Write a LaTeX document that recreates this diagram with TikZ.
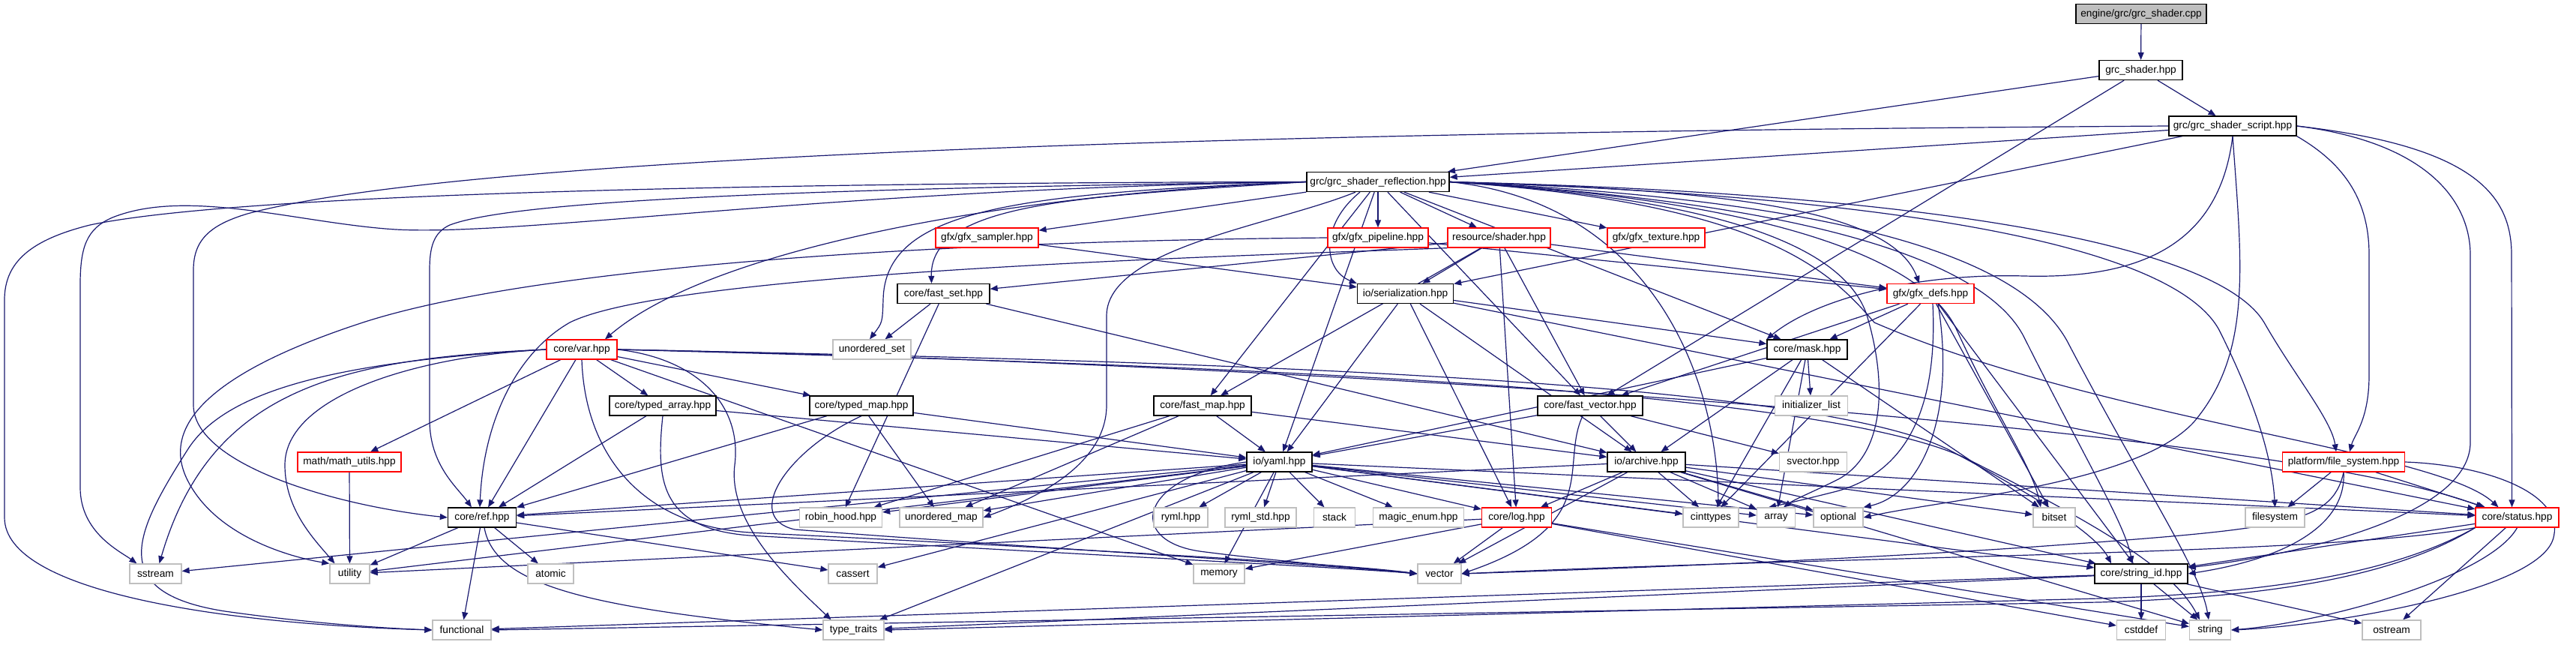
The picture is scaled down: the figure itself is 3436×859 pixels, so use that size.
\documentclass[tikz,border=0pt]{standalone}
\usepackage{fontspec}
\newfontfamily\doxfont{Liberation Sans}
\usetikzlibrary{arrows.meta}
\definecolor{edgec}{HTML}{191970}
\definecolor{grayb}{HTML}{BFBFBF}
\definecolor{rootf}{HTML}{BFBFBF}
\definecolor{redb}{HTML}{FF0000}
\pgfdeclarelayer{bg}
\pgfdeclarelayer{edges}
\pgfsetlayers{bg,edges,main}
\tikzset{
 nbox/.style={draw=black, fill=white, line width=1.3pt, minimum height=26pt, inner xsep=2pt, inner ysep=0pt, font=\doxfont\fontsize{13.7}{16}\selectfont},
 rbox/.style={nbox, draw=redb},
 gbox/.style={nbox, draw=grayb},
 rootbox/.style={nbox, fill=rootf},
 e/.style={draw=edgec, line width=1.2pt, -{Triangle[length=10pt,width=8pt]}},
}
\begin{document}
\begin{tikzpicture}[x=1pt,y=-1pt]
\useasboundingbox (0,0) rectangle (3436,859);
\begin{pgfonlayer}{bg}
\fill[white] (0,0) rectangle (3436,859);
\end{pgfonlayer}
% nodes
\node[rootbox, minimum width=174pt] (root) at (2856,18.5) {engine/grc/grc\_shader.cpp};
\node[nbox, minimum width=111pt] (shader) at (2855.5,93.5) {grc\_shader.hpp};
\node[nbox, minimum width=170pt] (script) at (2978,168) {grc/grc\_shader\_script.hpp};
\node[nbox, minimum width=190pt] (refl) at (1838,242.5) {grc/grc\_shader\_reflection.hpp};
\node[rbox, minimum width=137pt] (sampler) at (1316.5,317) {gfx/gfx\_sampler.hpp};
\node[rbox, minimum width=134pt] (pipeline) at (1838,317) {gfx/gfx\_pipeline.hpp};
\node[rbox, minimum width=137pt] (rshader) at (1999.5,317) {resource/shader.hpp};
\node[rbox, minimum width=130pt] (texture) at (2209,317) {gfx/gfx\_texture.hpp};
\node[nbox, minimum width=123pt] (fastset) at (1258.5,391.5) {core/fast\_set.hpp};
\node[nbox, minimum width=128pt] (serial) at (1874.5,391.5) {io/serialization.hpp};
\node[rbox, minimum width=116pt] (defs) at (2575,391.5) {gfx/gfx\_defs.hpp};
\node[rbox, minimum width=94pt] (var) at (776,466) {core/var.hpp};
\node[gbox, minimum width=104pt] (uset) at (1163,466) {unordered\_set};
\node[nbox, minimum width=107pt] (mask) at (2410.5,466) {core/mask.hpp};
\node[nbox, minimum width=142pt] (tarray) at (884,541) {core/typed\_array.hpp};
\node[nbox, minimum width=138pt] (tmap) at (1149,541) {core/typed\_map.hpp};
\node[nbox, minimum width=130pt] (fmap) at (1604,541) {core/fast\_map.hpp};
\node[nbox, minimum width=140pt] (fvec) at (2121,541) {core/fast\_vector.hpp};
\node[gbox, minimum width=97pt] (initl) at (2416,541) {initializer\_list};
\node[rbox, minimum width=138pt] (mutils) at (466,616) {math/math\_utils.hpp};
\node[nbox, minimum width=87pt] (yaml) at (1706.5,616) {io/yaml.hpp};
\node[nbox, minimum width=104pt] (archive) at (2196,616) {io/archive.hpp};
\node[gbox, minimum width=90pt] (svector) at (2418.5,616) {svector.hpp};
\node[rbox, minimum width=163pt] (fsys) at (3126,616) {platform/file\_system.hpp};
\node[nbox, minimum width=91pt] (ref) at (643,690) {core/ref.hpp};
\node[gbox, minimum width=110pt] (robin) at (1121.5,690) {robin\_hood.hpp};
\node[gbox, minimum width=111pt] (umap) at (1255.5,690) {unordered\_map};
\node[gbox, minimum width=72pt] (ryml) at (1575,690) {ryml.hpp};
\node[gbox, minimum width=95pt] (rymlstd) at (1681.5,690) {ryml\_std.hpp};
\node[gbox, minimum width=55pt] (stack) at (1780,690) {stack};
\node[gbox, minimum width=121pt] (magic) at (1892,690) {magic\_enum.hpp};
\node[rbox, minimum width=93pt] (log) at (2023,690) {core/log.hpp};
\node[gbox, minimum width=74pt] (cint) at (2282,690) {cinttypes};
\node[gbox, minimum width=51pt] (array) at (2369,690) {array};
\node[gbox, minimum width=66pt] (optional) at (2452,690) {optional};
\node[gbox, minimum width=56pt] (bitset) at (2740,690) {bitset};
\node[gbox, minimum width=79pt] (filesystem) at (3034.5,690) {filesystem};
\node[rbox, minimum width=111pt] (status) at (3357.5,690) {core/status.hpp};
\node[gbox, minimum width=69pt] (sstream) at (207.5,765) {sstream};
\node[gbox, minimum width=53pt] (utility) at (466.5,765) {utility};
\node[gbox, minimum width=61pt] (atomic) at (734.5,765) {atomic};
\node[gbox, minimum width=65pt] (cassert) at (1137.5,765) {cassert};
\node[gbox, minimum width=68pt] (memory) at (1626,765) {memory};
\node[gbox, minimum width=58pt] (vector) at (1920,765) {vector};
\node[nbox, minimum width=124pt] (strid) at (2856,765) {core/string\_id.hpp};
\node[gbox, minimum width=78pt] (functional) at (616,840) {functional};
\node[gbox, minimum width=81pt] (ttraits) at (1138.5,840) {type\_traits};
\node[gbox, minimum width=65pt] (cstddef) at (2856,840) {cstddef};
\node[gbox, minimum width=55pt] (string) at (2948,840) {string};
\node[gbox, minimum width=78pt] (ostream) at (3190,840) {ostream};

\begin{pgfonlayer}{edges}
% straight edges
\foreach \a/\b in {root/shader, shader/script, shader/refl, shader/fvec,
 script/refl, script/serial,
 refl/sampler, refl/pipeline, refl/rshader, refl/texture, refl/fmap, refl/fvec, refl/mask, refl/yaml,
 sampler/serial, pipeline/defs,
 rshader/fastset, rshader/serial, rshader/fmap, rshader/fvec, rshader/defs, rshader/log,
 fastset/uset, fastset/robin, fastset/archive,
 serial/yaml, serial/archive, serial/log, serial/mask, serial/status,
 var/mutils, var/tarray, var/tmap, var/ref, var/memory,
 tarray/ref, tarray/yaml, tmap/ref, tmap/umap, tmap/yaml,
 fmap/yaml, fmap/umap, fmap/robin, fmap/archive,
 mutils/utility,
 yaml/ref, yaml/robin, yaml/umap, yaml/sstream, yaml/utility, yaml/ttraits, yaml/cassert, yaml/memory,
 yaml/ryml, yaml/rymlstd, yaml/stack, yaml/magic, yaml/log, yaml/cint, yaml/array, yaml/optional, yaml/status, yaml/strid,
 fvec/yaml, fvec/archive, fvec/svector,
 archive/ref, archive/log, archive/cint, archive/array, archive/optional, archive/bitset, archive/strid, archive/status, archive/string, archive/vector,
 mask/initl, mask/bitset, mask/archive, mask/yaml, mask/array, mask/cint,
 defs/mask, defs/fvec, defs/bitset, defs/strid, defs/cint,
 log/memory, log/vector, log/string, log/cstddef, log/utility,
 fsys/filesystem, fsys/status,
 status/strid, status/ostream,
 strid/cstddef, strid/string, strid/ostream, strid/functional, strid/ttraits,
 ref/utility, ref/atomic, ref/functional, ref/cassert}
 {\draw[e] (\a) -- (\b);}

% routed edges
\draw[e] (script.west) .. controls (2300,172) and (700,185) .. (330,285) .. controls (280,300) and (258,320) .. (258,360) -- (258,540) .. controls (258,620) and (450,675) .. (ref.west);
\draw[e] (script.south) .. controls (2960,330) and (2850,372) .. (2700,368) .. controls (2550,364) and (2420,400) .. (mask.north west);
\draw[e] (script.south) .. controls (2990,350) and (3005,470) .. (2926,563) .. controls (2850,645) and (2600,665) .. (optional.east);
\draw[e] (script.south east) .. controls (3130,220) and (3160,270) .. (3160,340) -- (3160,500) .. controls (3160,560) and (3140,580) .. ([xshift=8pt]fsys.north);
\draw[e] (script.east) .. controls (3240,190) and (3295,270) .. (3295,340) -- (3295,590) .. controls (3295,680) and (3100,735) .. ([yshift=8pt]strid.east);
\draw[e] (script.east) .. controls (3300,195) and (3350,260) .. (3350,340) -- ([xshift=-7pt]status.north);

\draw[e] (refl.west) .. controls (1200,250) and (700,262) .. (600,300) .. controls (578,310) and (573,330) .. (573,360) -- (573,560) .. controls (573,620) and (610,650) .. ([xshift=-14pt]ref.north);
\draw[e] (refl.west) .. controls (1100,252) and (700,315) .. (528,306) .. controls (400,298) and (250,250) .. (150,290) .. controls (115,305) and (107,330) .. (107,380) -- (107,650) .. controls (107,710) and (160,735) .. ([xshift=-25pt]sstream.north);
\draw[e] (refl.west) .. controls (900,244) and (300,262) .. (120,300) .. controls (40,320) and (6,350) .. (6,400) -- (6,690) .. controls (6,790) and (300,832) .. (functional.west);
\draw[e] (refl.west) .. controls (1450,262) and (1240,268) .. ([xshift=-16pt]fastset.north);
\draw[e] (refl.west) .. controls (1350,258) and (1180,280) .. (1178,400) .. controls (1177,430) .. ([xshift=-3pt]uset.north);
\draw[e] ([xshift=-24pt]refl.south) .. controls (1760,300) and (1765,360) .. (serial.north west);
\draw[e] ([xshift=-30pt]refl.south) .. controls (1700,300) and (1478,330) .. (1476,420) -- (1476,540) .. controls (1476,620) and (1380,665) .. (umap.east);
\draw[e] (refl.west) .. controls (1350,258) and (950,330) .. ([xshift=31pt]var.north);
\draw[e] (refl.east) .. controls (2250,252) and (2520,270) .. ([xshift=-15pt]defs.north);
\draw[e] (refl.east) .. controls (2600,258) and (2960,330) .. (3020,430) .. controls (3060,500) and (3110,560) .. ([xshift=-10pt]fsys.north);
\draw[e] (refl.east) .. controls (2550,262) and (2900,330) .. (2960,440) .. controls (3000,520) and (3030,600) .. (filesystem.north);
\draw[e] (refl.east) .. controls (2450,266) and (2700,340) .. (2760,460) .. controls (2860,650) and (2935,760) .. ([xshift=-2pt]string.north);
\draw[e] (refl.east) .. controls (2420,270) and (2650,350) .. (2700,450) .. controls (2780,610) and (2835,700) .. ([xshift=-12pt]strid.north);
\draw[e] (refl.east) .. controls (2350,270) and (2440,360) .. (2500,430) .. controls (2800,560) and (3250,600) .. ([xshift=-25pt]status.north);
\draw[e] (refl.east) .. controls (2300,262) and (2560,330) .. (2610,440) .. controls (2660,550) and (2710,620) .. ([xshift=-18pt]bitset.north);
\draw[e] (refl.east) .. controls (2200,270) and (2290,500) .. ([xshift=10pt]cint.north);
\draw[e] (refl.east) .. controls (2300,265) and (2460,330) .. (2490,420) .. controls (2520,520) and (2510,610) .. (2450,640) .. controls (2420,655) and (2395,665) .. ([xshift=10pt]array.north);

\draw[e] (pipeline.west) .. controls (1200,322) and (700,360) .. (484,430) .. controls (300,490) and (210,560) .. (250,640) .. controls (290,720) and (400,745) .. (utility.north west);
\draw[e] (rshader.south west) .. controls (1700,340) and (900,360) .. (760,430) .. controls (690,470) and (645,560) .. ([xshift=-3pt]ref.north);

\draw[e] (var.west) .. controls (550,475) and (380,530) .. (380,620) .. controls (380,680) and (420,720) .. ([xshift=-20pt]utility.north);
\draw[e] (var.west) .. controls (450,478) and (280,520) .. ([xshift=5pt]sstream.north);
\draw[e] (var.west) .. controls (450,482) and (300,520) .. (250,600) .. controls (180,710) and (140,790) .. (300,815) .. controls (420,832) and (520,838) .. (functional.west);
\draw[e] (var.east) .. controls (930,478) and (990,540) .. (980,620) .. controls (970,700) and (1060,780) .. ([xshift=-30pt]ttraits.north);
\draw[e] (var.south) .. controls (780,600) and (850,700) .. (1000,710) .. controls (1400,730) and (1800,752) .. (vector.west);
\draw[e] (var.east) .. controls (1500,480) and (2400,500) .. (2600,600) .. controls (2750,680) and (2800,720) .. ([xshift=-40pt]strid.north);
\draw[e] (var.east) .. controls (1600,480) and (3000,560) .. ([xshift=-45pt]status.north);
\draw[e] (var.east) .. controls (1500,484) and (2400,510) .. (2620,610) .. controls (2800,700) and (2900,760) .. ([xshift=-14pt]string.north);

\draw[e] (tarray.south) .. controls (875,640) and (880,705) .. (1000,714) .. controls (1400,737) and (1800,757) .. (vector.west);
\draw[e] (tmap.south) .. controls (1050,600) and (990,690) .. (1060,706) .. controls (1400,732) and (1800,755) .. (vector.west);
\draw[e] (yaml.west) .. controls (1520,635) and (1500,720) .. (1600,735) .. controls (1700,748) and (1820,758) .. (vector.west);
\draw[e] ([xshift=-10pt]fvec.south) .. controls (2080,620) and (2140,700) .. (vector.east);
\draw[e] (fsys.south) .. controls (3110,700) and (3050,705) .. (2700,730) .. controls (2400,750) and (2100,760) .. (vector.east);
\draw[e] (status.south west) .. controls (3100,740) and (2500,740) .. (vector.east);
\draw[e] (fsys.south) .. controls (3130,700) and (3050,745) .. (strid.east);
\draw[e] (fsys.east) .. controls (3320,620) and (3425,660) .. (3405,720) .. controls (3380,790) and (3100,835) .. (string.east);
\draw[e] (status.south) .. controls (3320,770) and (3100,830) .. (string.east);
\draw[e] (status.south west) .. controls (3200,760) and (3050,790) .. (2800,798) -- (ttraits.east);
\draw[e] (status.south west) .. controls (3200,765) and (3050,795) .. (2800,803) -- (functional.east);
\draw[e] ([xshift=3pt]ref.south) .. controls (660,780) and (780,810) .. (ttraits.west);
\draw[e] ([xshift=3pt]defs.south) .. controls (2585,550) and (2540,630) .. (2450,655) .. controls (2410,665) and (2390,670) .. ([xshift=-10pt]array.north);
\draw[e] ([xshift=10pt]defs.south) .. controls (2610,560) and (2560,660) .. (optional.north east);
\end{pgfonlayer}
\end{tikzpicture}
\end{document}
